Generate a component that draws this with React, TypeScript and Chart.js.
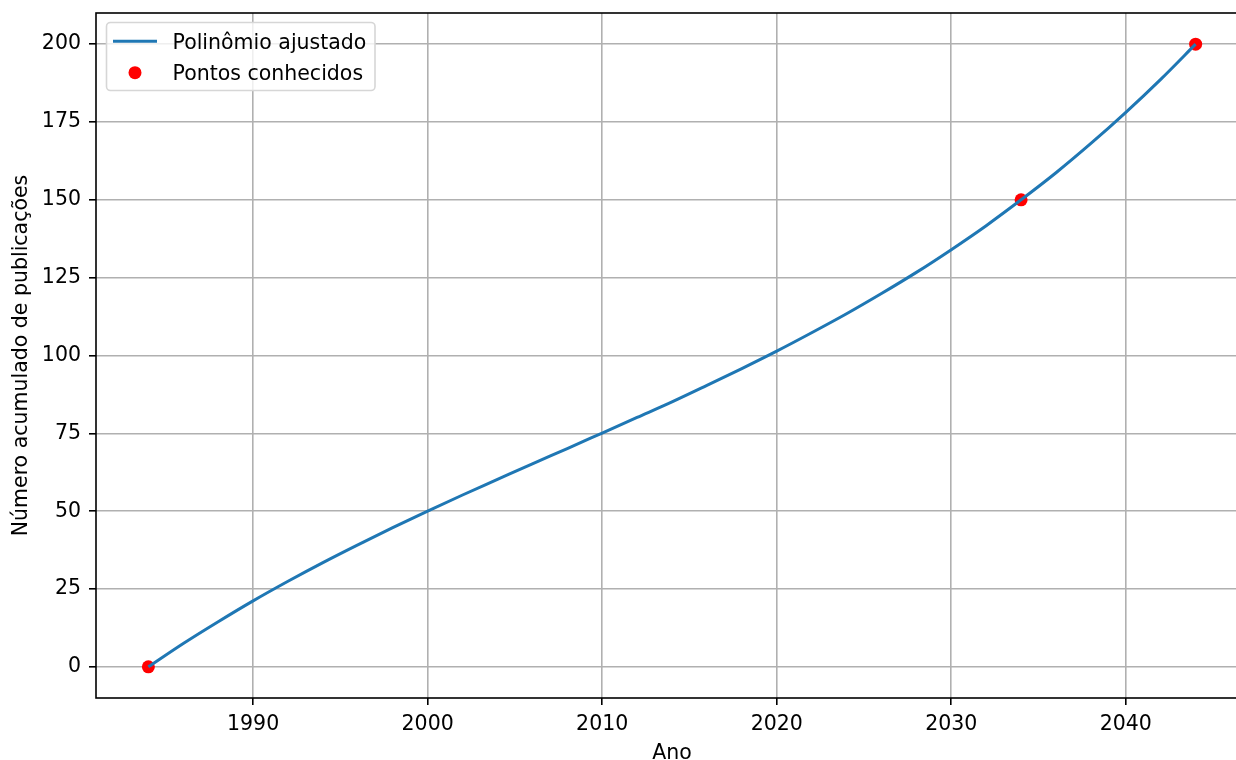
import React, { useEffect, useRef } from "react";
import { Chart, registerables } from "chart.js";

Chart.register(...registerables);

// Fitted polynomial curve, sampled every two years
const curveYears = [
  1984, 1986, 1988, 1990, 1992, 1994, 1996, 1998, 2000, 2002, 2004, 2006, 2008,
  2010, 2012, 2014, 2016, 2018, 2020, 2022, 2024, 2026, 2028, 2030, 2032, 2034,
  2036, 2038, 2040, 2042, 2044,
];
const curveValues = [
  0, 7.5, 14.5, 21.2, 27.5, 33.5, 39.2, 44.7, 50.0, 55.2, 60.2, 65.2, 70.1,
  75.1, 80.1, 85.1, 90.4, 95.8, 101.4, 107.3, 113.4, 119.9, 126.7, 134.0, 141.7,
  150.0, 158.7, 168.1, 178.1, 188.7, 200.0,
];

// Known publication counts
const knownYears = [1984, 2034, 2044];
const knownValues = [0, 150, 200];

// Axes
const xTickValues = [1990, 2000, 2010, 2020, 2030, 2040];
const yTickValues = [0, 25, 50, 75, 100, 125, 150, 175, 200];
const xLimits = [1981, 2047];
const yLimits = [-10, 210];

const seriesLabels = ["Polinômio ajustado", "Pontos conhecidos"];
const xTitle = "Ano";
const yTitle = "Número acumulado de publicações";

const FONT = "DejaVu Sans";
const FONT_SIZE = 20.5;
const LINE_BLUE = "#1f77b4";
const POINT_RED = "#ff0000";

const decorations = {
  id: "decorations",
  afterDatasetsDraw(chart: any) {
    const { ctx, chartArea } = chart;
    const { left, right, top, bottom } = chartArea;
    ctx.save();
    // axes frame
    ctx.strokeStyle = "#000000";
    ctx.lineWidth = 1.6;
    ctx.strokeRect(left, top, right - left, bottom - top);
    ctx.restore();
  },
  afterDraw(chart: any) {
    const { ctx, chartArea } = chart;
    const { left, right, top, bottom } = chartArea;
    ctx.save();

    // legend box
    const bx = 106.5;
    const by = 22.5;
    const bw = 268.5;
    const bh = 68;
    const r = 4;
    ctx.beginPath();
    ctx.moveTo(bx + r, by);
    ctx.lineTo(bx + bw - r, by);
    ctx.arcTo(bx + bw, by, bx + bw, by + r, r);
    ctx.lineTo(bx + bw, by + bh - r);
    ctx.arcTo(bx + bw, by + bh, bx + bw - r, by + bh, r);
    ctx.lineTo(bx + r, by + bh);
    ctx.arcTo(bx, by + bh, bx, by + bh - r, r);
    ctx.lineTo(bx, by + r);
    ctx.arcTo(bx, by, bx + r, by, r);
    ctx.closePath();
    ctx.fillStyle = "rgba(255,255,255,0.8)";
    ctx.fill();
    ctx.strokeStyle = "#d6d6d6";
    ctx.lineWidth = 1.6;
    ctx.stroke();

    // legend line sample
    ctx.strokeStyle = LINE_BLUE;
    ctx.lineWidth = 3;
    ctx.beginPath();
    ctx.moveTo(113, 41.3);
    ctx.lineTo(157, 41.3);
    ctx.stroke();

    // legend point sample
    ctx.fillStyle = POINT_RED;
    ctx.beginPath();
    ctx.arc(135, 72.7, 6.5, 0, Math.PI * 2);
    ctx.fill();

    ctx.fillStyle = "#000000";
    ctx.font = `${FONT_SIZE}px "${FONT}"`;
    ctx.textAlign = "left";
    ctx.textBaseline = "alphabetic";
    ctx.fillText(seriesLabels[0], 172.5, 48.5);
    ctx.fillText(seriesLabels[1], 172.5, 80);

    // axis titles
    ctx.textAlign = "center";
    ctx.fillText(xTitle, (left + right) / 2, 758.5);
    ctx.translate(27, (top + bottom) / 2);
    ctx.rotate(-Math.PI / 2);
    ctx.fillText(yTitle, 0, 0);

    ctx.restore();
  },
};

export default function App() {
  const canvasRef = useRef<HTMLCanvasElement | null>(null);

  useEffect(() => {
    const canvas = canvasRef.current;
    if (!canvas) return;

    const chart = new Chart(canvas, {
      type: "scatter",
      data: {
        datasets: [
          {
            label: seriesLabels[0],
            data: curveYears.map((x, i) => ({ x, y: curveValues[i] })),
            showLine: true,
            borderColor: LINE_BLUE,
            borderWidth: 3,
            pointRadius: 0,
            pointHoverRadius: 0,
            cubicInterpolationMode: "monotone",
            fill: false,
          } as any,
          {
            label: seriesLabels[1],
            data: knownYears.map((x, i) => ({ x, y: knownValues[i] })),
            backgroundColor: POINT_RED,
            borderWidth: 0,
            pointRadius: 6.5,
            pointHoverRadius: 6.5,
          },
        ],
      },
      options: {
        animation: false,
        responsive: false,
        devicePixelRatio: 1,
        layout: { padding: { top: 13, right: 12, left: 0, bottom: 0 } },
        plugins: {
          legend: { display: false },
          tooltip: { enabled: false },
          title: { display: false },
        },
        events: [],
        scales: {
          x: {
            type: "linear",
            min: xLimits[0],
            max: xLimits[1],
            afterBuildTicks: (scale: any) => {
              scale.ticks = xTickValues.map((value) => ({ value }));
            },
            afterFit: (scale: any) => {
              scale.height = 62;
              scale.paddingLeft = 0;
              scale.paddingRight = 0;
            },
            ticks: {
              callback: (v: any) => String(v),
              color: "#000000",
              font: { family: FONT, size: FONT_SIZE },
              padding: 7,
              maxRotation: 0,
              autoSkip: false,
            },
            grid: {
              color: "#b0b0b0",
              lineWidth: 1.6,
              drawTicks: true,
              tickLength: 7,
              tickColor: "#000000",
              tickWidth: 1.6,
            },
            border: { display: false },
          },
          y: {
            type: "linear",
            min: yLimits[0],
            max: yLimits[1],
            afterBuildTicks: (scale: any) => {
              scale.ticks = yTickValues.map((value) => ({ value }));
            },
            afterFit: (scale: any) => {
              scale.width = 96;
              scale.paddingTop = 0;
              scale.paddingBottom = 0;
            },
            ticks: {
              callback: (v: any) => String(v),
              color: "#000000",
              font: { family: FONT, size: FONT_SIZE },
              padding: 8,
              autoSkip: false,
            },
            grid: {
              color: "#b0b0b0",
              lineWidth: 1.6,
              drawTicks: true,
              tickLength: 7,
              tickColor: "#000000",
              tickWidth: 1.6,
            },
            border: { display: false },
          },
        },
      },
      plugins: [decorations],
    });

    return () => chart.destroy();
  }, []);

  return (
    <div
      style={{
        position: "fixed",
        left: 0,
        top: 0,
        width: 1236,
        height: 760,
        overflow: "hidden",
        background: "#ffffff",
      }}
    >
      <canvas
        ref={canvasRef}
        width={1260}
        height={760}
        style={{ display: "block", width: 1260, height: 760 }}
      />
    </div>
  );
}
